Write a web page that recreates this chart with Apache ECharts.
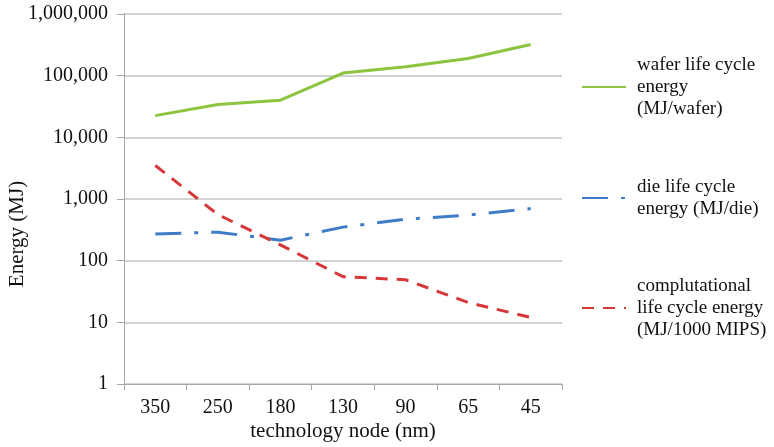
<!DOCTYPE html>
<html><head><meta charset="utf-8">
<script src="https://cdn.jsdelivr.net/npm/echarts@6/dist/echarts.min.js"></script>
<style>html,body{margin:0;padding:0;background:#fff}#c{width:774px;height:447px}</style>
</head><body><div id="c"></div>
<script>
const categories = ['350','250','180','130','90','65','45'];
const waferEnergy = [22500, 34000, 40000, 110000, 140000, 190000, 320000];
const dieEnergy = [270, 290, 215, 350, 470, 550, 700];
const compEnergy = [3500, 560, 180, 55, 49, 21, 12];
const seriesNames = ['wafer life cycle\nenergy\n(MJ/wafer)', 'die life cycle\nenergy (MJ/die)', 'complutational\nlife cycle energy\n(MJ/1000 MIPS)'];

const FONT = '"Liberation Serif", "Times New Roman", serif';
const LH = 22;
const chart = echarts.init(document.getElementById('c'), null, {renderer:'canvas'});
function legendFor(name, iconY, lines){
  return {
    data:[name], orient:'vertical', left:581, top:iconY - (2*lines-1)*LH/2, padding:0,
    itemWidth:44, itemHeight:14, itemGap:0,
    selectedMode:false,
    itemStyle:{color:'rgba(0,0,0,0)', borderColor:'rgba(0,0,0,0)', borderWidth:0},
    textStyle:{fontFamily:FONT, fontSize:19, color:'#111', lineHeight:LH,
      padding:[(lines-1)*LH,0,0,6]}
  };
}
chart.setOption({
  animation:false,
  textStyle:{fontFamily:FONT},
  grid:{left:124, right:212, top:14, bottom:63, containLabel:false, outerBoundsMode:'none'},
  legend:[legendFor(seriesNames[0], 87, 3), legendFor(seriesNames[1], 198, 2), legendFor(seriesNames[2], 308, 3)],
  xAxis:{
    type:'category', data:categories, boundaryGap:true,
    name:'technology node (nm)', nameLocation:'middle', nameGap:37, nameMoveOverlap:false,
    nameTextStyle:{fontFamily:FONT, fontSize:21, color:'#111'},
    axisLine:{lineStyle:{color:'#a6a6a6', width:1}},
    axisTick:{show:true, length:6, alignWithLabel:false, lineStyle:{color:'#a6a6a6'}},
    axisLabel:{fontFamily:FONT, fontSize:20, color:'#111', margin:14}
  },
  yAxis:{
    type:'log', logBase:10, min:1, max:1000000,
    name:'Energy (MJ)', nameLocation:'middle', nameGap:96, nameRotate:90, nameMoveOverlap:false,
    nameTextStyle:{fontFamily:FONT, fontSize:21, color:'#111', padding:[0,70,0,0]},
    axisLine:{show:true, lineStyle:{color:'#a6a6a6', width:1}},
    axisTick:{show:true, length:7, lineStyle:{color:'#a6a6a6'}},
    minorTick:{show:false},
    splitLine:{show:true, lineStyle:{color:'#c4c4c4', width:1.5}},
    axisLabel:{fontFamily:FONT, fontSize:20, color:'#111', margin:16,
      formatter:v=>Math.round(v).toLocaleString('en-US')}
  },
  series:[
    {name:seriesNames[0], type:'line', data:waferEnergy, symbol:'none',
     lineStyle:{color:'#8cc43f', width:3}, itemStyle:{color:'#8cc43f'}},
    {name:seriesNames[1], type:'line', data:dieEnergy, symbol:'none',
     lineStyle:{color:'#3f7cc8', width:3, type:[26,13,4,13]}, itemStyle:{color:'#3f7cc8'}},
    {name:seriesNames[2], type:'line', data:compEnergy, symbol:'none',
     lineStyle:{color:'#d6383a', width:3, type:[12,9]}, itemStyle:{color:'#d6383a'}}
  ]
});
</script></body></html>
